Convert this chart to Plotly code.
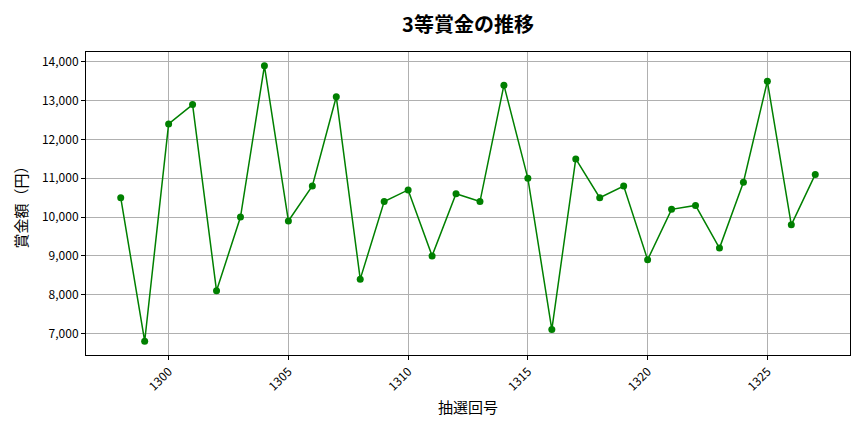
import plotly.graph_objects as go

# 抽選回号と3等賞金
draws = list(range(1298, 1328))
prizes = [10500, 6800, 12400, 12900, 8100, 10000, 13900, 9900, 10800, 13100,
          8400, 10400, 10700, 9000, 10600, 10400, 13400, 11000, 7100, 11500,
          10500, 10800, 8900, 10200, 10300, 9200, 10900, 13500, 9800, 11100]

x_ticks = [1300, 1305, 1310, 1315, 1320, 1325]
y_ticks = [7000, 8000, 9000, 10000, 11000, 12000, 13000, 14000]

font_jp = "Noto Sans CJK JP"

fig = go.Figure()
fig.add_trace(go.Scatter(
    x=draws,
    y=prizes,
    mode='lines+markers',
    line=dict(color='green', width=1.5),
    marker=dict(color='green', size=7),
    showlegend=False,
))

# ページ余白(8px)の分だけ小さくする
fig.update_layout(
    width=856,
    height=424,
    margin=dict(l=78, r=14, t=44, b=77),
    paper_bgcolor='white',
    plot_bgcolor='white',
    font=dict(family=font_jp, color='black'),
    title=dict(text='<b>3等賞金の推移</b>', x=0.5, xref='paper', xanchor='center',
               y=0.96, yanchor='middle', font=dict(size=20, family=font_jp)),
)

fig.update_xaxes(
    range=[1296.55, 1328.45],
    tickvals=x_ticks,
    tickangle=-45,
    tickfont=dict(size=12),
    ticks='outside', ticklen=4, tickcolor='black',
    showgrid=True, gridcolor='#b0b0b0', gridwidth=1,
    showline=True, linecolor='black', linewidth=1, mirror=True,
    zeroline=False, automargin=False,
    title=dict(text='抽選回号', font=dict(size=15), standoff=9),
)
fig.update_yaxes(
    range=[6445, 14255],
    tickvals=y_ticks,
    tickformat=',d',
    tickfont=dict(size=12),
    ticks='outside', ticklen=4, tickcolor='black',
    showgrid=True, gridcolor='#b0b0b0', gridwidth=1,
    showline=True, linecolor='black', linewidth=1, mirror=True,
    zeroline=False, automargin=False,
    title=dict(text='賞金額（円）', font=dict(size=15), standoff=10),
)

fig.write_html("out.html")
